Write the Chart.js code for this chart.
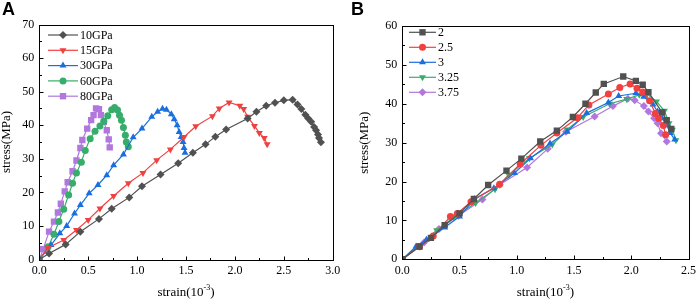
<!DOCTYPE html>
<html>
<head>
<meta charset="utf-8">
<script src="https://cdn.jsdelivr.net/npm/chart.js@4.4.0/dist/chart.umd.min.js"></script>
<style>
  body { margin: 0; background: #fff; width: 700px; height: 299px; position: relative; overflow: hidden; }
  .panel { position: absolute; top: 0; width: 350px; height: 299px; }
  .tag { position: absolute; top: -1px; font: bold 18px "Liberation Sans", Arial, sans-serif; color: #000; }
</style>
</head>
<body>
<div class="panel" style="left:0"><canvas id="chartA" width="350" height="299"></canvas></div>
<div class="panel" style="left:350px"><canvas id="chartB" width="350" height="299"></canvas></div>
<div class="tag" style="left:2px">A</div>
<div class="tag" style="left:351px">B</div>
<script>
// Panel A: elastic modulus series
const strain10 = [0, 0.10, 0.27, 0.42, 0.61, 0.74, 0.92, 1.05, 1.24, 1.42, 1.57, 1.70, 1.80, 1.91, 2.13, 2.22, 2.32, 2.41, 2.50, 2.59, 2.64, 2.68, 2.72, 2.75, 2.78, 2.81, 2.83, 2.85, 2.86, 2.88];
const stress10 = [0, 1.8, 4.5, 8.3, 12.1, 15.1, 18.5, 21.8, 25.3, 28.7, 31.8, 34.3, 36.6, 38.7, 42.0, 44.0, 45.8, 46.7, 47.4, 47.6, 46.2, 44.8, 43.1, 42.0, 41.0, 39.5, 38.5, 37.2, 36.2, 34.9];
const strain15 = [0, 0.09, 0.25, 0.38, 0.50, 0.62, 0.76, 0.91, 1.06, 1.20, 1.34, 1.48, 1.60, 1.77, 1.84, 1.94, 2.05, 2.09, 2.13, 2.20, 2.25, 2.30, 2.33];
const stress15 = [0, 3.5, 5.8, 8.8, 11.8, 15.2, 18.9, 22.7, 25.8, 29.6, 32.8, 36.5, 39.7, 42.7, 45.0, 46.8, 45.8, 44.8, 42.5, 39.8, 37.7, 36.2, 34.3];
const strain30 = [0, 0.12, 0.21, 0.28, 0.36, 0.42, 0.51, 0.60, 0.69, 0.76, 0.86, 0.96, 1.05, 1.15, 1.21, 1.26, 1.30, 1.35, 1.38, 1.41, 1.43, 1.45, 1.47, 1.48, 1.49];
const stress30 = [0, 4.3, 7.8, 10.0, 13.7, 16.2, 19.7, 22.2, 25.1, 28.1, 31.3, 36.4, 39.0, 42.5, 44.0, 44.9, 44.6, 43.3, 41.8, 40.0, 38.0, 36.5, 35.0, 33.2, 31.8];
const strain60 = [0, 0.09, 0.15, 0.20, 0.25, 0.30, 0.34, 0.38, 0.43, 0.47, 0.52, 0.57, 0.62, 0.66, 0.70, 0.74, 0.77, 0.80, 0.82, 0.84, 0.86, 0.88, 0.89, 0.91];
const stress60 = [0, 3.8, 7.5, 11.3, 15.0, 19.2, 22.7, 25.8, 29.0, 32.5, 36.0, 38.2, 39.8, 41.2, 42.8, 44.6, 45.3, 44.5, 43.0, 41.5, 39.3, 37.0, 35.0, 33.6];
const strain80 = [0, 0.04, 0.10, 0.15, 0.19, 0.22, 0.26, 0.29, 0.34, 0.38, 0.42, 0.44, 0.49, 0.53, 0.555, 0.58, 0.61, 0.63, 0.66, 0.69, 0.71, 0.72];
const stress80 = [0, 3.1, 8.3, 11.3, 14.0, 16.6, 20.3, 23.0, 26.3, 29.5, 33.2, 35.6, 39.0, 41.5, 43.0, 45.0, 44.8, 43.0, 41.0, 38.5, 35.8, 33.4];

// Panel B series
const strainB2 = [0, 0.15, 0.25, 0.37, 0.50, 0.625, 0.75, 0.91, 1.04, 1.205, 1.35, 1.49, 1.60, 1.69, 1.76, 1.93, 2.04, 2.10, 2.15, 2.27, 2.31, 2.35];
const stressB2 = [0, 3.3, 5.5, 8.8, 11.8, 15.5, 19.1, 22.8, 25.9, 30.3, 33.1, 36.6, 40.0, 42.9, 45.1, 47.0, 45.9, 44.9, 43.0, 37.8, 35.8, 33.5];
const strainB25 = [0, 0.15, 0.27, 0.42, 0.48, 0.60, 0.85, 1.03, 1.21, 1.35, 1.53, 1.63, 1.80, 1.90, 1.99, 2.05, 2.10, 2.16, 2.21, 2.24, 2.28, 2.30];
const stressB25 = [0, 3.2, 6.0, 11.0, 11.8, 14.8, 19.3, 24.5, 29.3, 32.5, 36.4, 39.7, 42.5, 44.2, 45.1, 44.0, 43.0, 40.8, 37.5, 36.2, 34.4, 32.0];
const strainB3 = [0, 0.12, 0.21, 0.37, 0.50, 0.63, 0.80, 0.98, 1.12, 1.29, 1.44, 1.61, 1.80, 1.89, 2.04, 2.11, 2.19, 2.23, 2.27, 2.31, 2.34, 2.38];
const stressB3 = [0, 3.3, 5.0, 8.2, 11.0, 15.5, 18.3, 22.2, 26.0, 29.8, 32.8, 37.6, 40.3, 42.0, 42.7, 41.8, 39.8, 38.0, 36.3, 34.5, 32.5, 30.8];
const strainB325 = [0, 0.15, 0.30, 0.45, 0.64, 0.81, 0.93, 1.11, 1.31, 1.44, 1.58, 1.81, 1.96, 2.07, 2.14, 2.22, 2.29, 2.33, 2.36, 2.39];
const stressB325 = [0, 3.6, 7.5, 10.8, 14.5, 18.0, 21.7, 26.0, 29.5, 33.4, 36.6, 40.0, 41.2, 42.3, 42.5, 40.6, 38.2, 35.0, 33.3, 30.6];
const strainB375 = [0, 0.19, 0.32, 0.49, 0.70, 0.85, 1.09, 1.27, 1.43, 1.68, 1.84, 1.97, 2.03, 2.11, 2.15, 2.20, 2.23, 2.26, 2.31];
const stressB375 = [0, 4.3, 7.8, 11.2, 15.4, 19.2, 23.6, 28.4, 32.8, 36.7, 39.4, 41.3, 40.9, 39.4, 38.0, 36.3, 35.0, 32.4, 30.3];

const labelsA = ['10GPa', '15GPa', '30GPa', '60GPa', '80GPa'];
const labelsB = ['2', '2.5', '3', '3.25', '3.75'];

const colors = ['#515151', '#F14040', '#1A6FDF', '#37AD6B', '#B177DE'];
const font = '"Liberation Serif", "Times New Roman", serif';

function pts(xs, ys) {
  return xs.map((x, i) => ({ x: x, y: ys[i] }));
}

function series(label, xs, ys, color, style, rot, r) {
  return {
    label: label,
    data: pts(xs, ys),
    borderColor: color,
    backgroundColor: color,
    borderWidth: 1.2,
    pointStyle: style,
    rotation: rot,
    pointRadius: r,
    pointBorderWidth: 0,
    pointBackgroundColor: color
  };
}

// frame, inward ticks, legend and axis titles
const decor = {
  id: 'decor',
  afterDraw(chart, args, o) {
    const { ctx, chartArea: a, scales } = chart;
    ctx.save();
    ctx.strokeStyle = '#000';
    ctx.lineWidth = 1;
    const L = Math.round(a.left) + 0.5, R = Math.round(a.right) + 0.5;
    const T = Math.round(a.top) + 0.5, B = Math.round(a.bottom) + 0.5;
    ctx.strokeRect(L, T, R - L, B - T);
    ctx.beginPath();
    scales.x.ticks.forEach(t => {
      const x = Math.round(scales.x.getPixelForValue(t.value)) + 0.5;
      const len = t.label ? 4 : 2.5;
      ctx.moveTo(x, B); ctx.lineTo(x, B - len);
    });
    scales.y.ticks.forEach(t => {
      const y = Math.round(scales.y.getPixelForValue(t.value)) + 0.5;
      const len = t.label ? 4 : 2.5;
      ctx.moveTo(L, y); ctx.lineTo(L + len, y);
    });
    ctx.stroke();

    // legend
    ctx.font = '12px ' + font;
    ctx.textBaseline = 'middle';
    ctx.textAlign = 'left';
    chart.data.datasets.forEach((ds, i) => {
      const y = o.legY + i * o.legDy;
      ctx.strokeStyle = ds.borderColor;
      ctx.lineWidth = 1.2;
      ctx.beginPath();
      ctx.moveTo(o.legX1, y); ctx.lineTo(o.legX2, y);
      ctx.stroke();
      ctx.fillStyle = ds.borderColor;
      Chart.helpers.drawPoint(ctx, { pointStyle: ds.pointStyle, rotation: ds.rotation || 0, radius: ds.pointRadius, borderWidth: 0 }, (o.legX1 + o.legX2) / 2, y);
      ctx.fillStyle = '#000';
      ctx.fillText(ds.label, o.legX2 + 2, y + 0.5);
    });

    // y title
    ctx.fillStyle = '#000';
    ctx.font = '13px ' + font;
    ctx.save();
    ctx.translate(o.yTitleX, (a.top + a.bottom) / 2);
    ctx.rotate(-Math.PI / 2);
    ctx.textAlign = 'center';
    ctx.textBaseline = 'middle';
    ctx.fillText('stress(MPa)', 0, 0);
    ctx.restore();

    // x title with superscript
    ctx.textBaseline = 'alphabetic';
    ctx.textAlign = 'left';
    const p1 = 'strain(10', p2 = '-3', p3 = ')';
    ctx.font = '13px ' + font;
    const w1 = ctx.measureText(p1).width, w3 = ctx.measureText(p3).width;
    ctx.font = '8px ' + font;
    const w2 = ctx.measureText(p2).width;
    let x = (a.left + a.right) / 2 - (w1 + w2 + w3) / 2;
    const by = 296;
    ctx.font = '13px ' + font;
    ctx.fillText(p1, x, by);
    ctx.font = '8px ' + font;
    ctx.fillText(p2, x + w1, by - 6);
    ctx.font = '13px ' + font;
    ctx.fillText(p3, x + w1 + w2, by);
    ctx.restore();
  }
};

function makeChart(id, datasets, xMax, yMax, pad, yWidth, xHeight, deco) {
  return new Chart(document.getElementById(id), {
    type: 'line',
    data: { datasets: datasets },
    plugins: [decor],
    options: {
      responsive: false,
      animation: false,
      layout: { padding: pad },
      plugins: { legend: { display: false }, tooltip: { enabled: false }, decor: deco },
      scales: {
        x: {
          type: 'linear', min: 0, max: xMax,
          afterFit: s => { s.height = xHeight; },
          grid: { display: false, drawTicks: false },
          border: { display: false },
          ticks: {
            stepSize: 0.25, autoSkip: false, padding: 4, color: '#000',
            font: { family: font, size: 12 },
            callback: v => (Math.round(v * 4) % 2 === 0 ? v.toFixed(1) : '')
          }
        },
        y: {
          min: 0, max: yMax,
          afterFit: s => { s.width = yWidth; },
          grid: { display: false, drawTicks: false },
          border: { display: false },
          ticks: {
            stepSize: 5, autoSkip: false, padding: 5, color: '#000',
            font: { family: font, size: 12 },
            callback: v => (v % 10 === 0 ? String(v) : '')
          }
        }
      }
    }
  });
}

makeChart('chartA', [
  series(labelsA[0], strain10, stress10, colors[0], 'rectRot', 0, 4),
  series(labelsA[1], strain15, stress15, colors[1], 'triangle', 180, 4),
  series(labelsA[2], strain30, stress30, colors[2], 'triangle', 0, 4),
  series(labelsA[3], strain60, stress60, colors[3], 'circle', 0, 3.5),
  series(labelsA[4], strain80, stress80, colors[4], 'rect', 0, 4.5)
], 3, 70, { left: 0, top: 24.5, right: 17.3, bottom: 0 }, 39.3, 39.5,
  { legX1: 48, legX2: 78, legY: 35, legDy: 15.3, yTitleX: 7 });

makeChart('chartB', [
  series(labelsB[0], strainB2, stressB2, colors[0], 'rect', 0, 4.5),
  series(labelsB[1], strainB25, stressB25, colors[1], 'circle', 0, 3.5),
  series(labelsB[2], strainB3, stressB3, colors[2], 'triangle', 0, 4),
  series(labelsB[3], strainB325, stressB325, colors[3], 'triangle', 180, 4),
  series(labelsB[4], strainB375, stressB375, colors[4], 'rectRot', 0, 4)
], 2.5, 60, { left: 0, top: 26, right: 6.7, bottom: 0 }, 52.3, 39.7,
  { legX1: 59, legX2: 86, legY: 32.3, legDy: 15, yTitleX: 15 });
</script>
</body>
</html>
